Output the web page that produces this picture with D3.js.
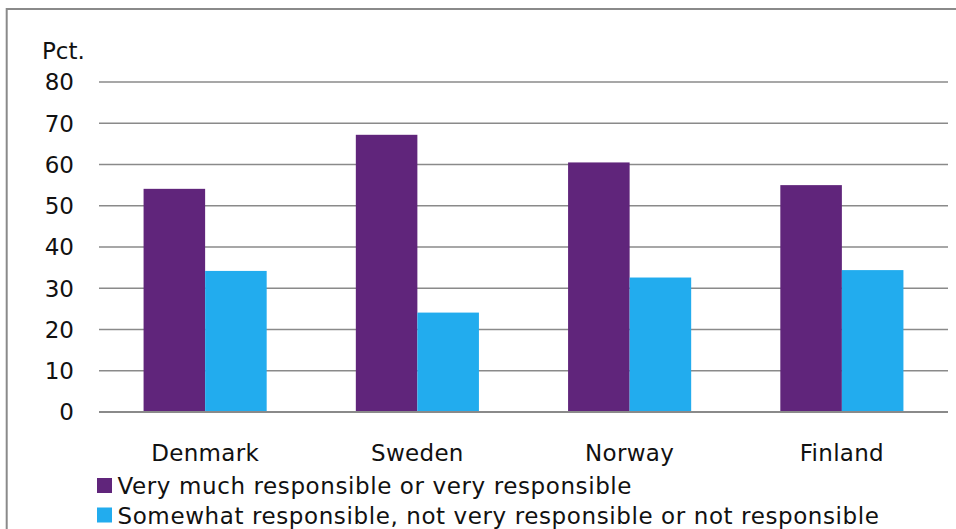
<!DOCTYPE html>
<html><head><meta charset="utf-8">
<script src="https://cdn.jsdelivr.net/npm/d3@7"></script>
<style>body{margin:0;background:#fff}svg{display:block}text{font-family:"DejaVu Sans",Verdana,sans-serif;fill:#111}</style>
</head><body>
<script>
const categories = ["Denmark", "Sweden", "Norway", "Finland"];
const seriesNames = ["Very much responsible or very responsible", "Somewhat responsible, not very responsible or not responsible"];
const veryResponsible = [54.1, 67.2, 60.5, 55.0];
const lessResponsible = [34.2, 24.1, 32.6, 34.4];
const yTicks = [0, 10, 20, 30, 40, 50, 60, 70, 80];
const colors = ["#60257b", "#22acee"];

const W = 956, H = 529;
const svg = d3.select("body").append("svg").attr("width", W).attr("height", H);

// frame
svg.append("rect").attr("x", 6.7).attr("y", 9).attr("width", 1000).attr("height", 1000)
  .attr("fill", "none").attr("stroke", "#8a8a8a").attr("stroke-width", 2);

const x0 = d3.scaleBand().domain(categories).range([99, 948]).paddingInner(0.42).paddingOuter(0.21);
const x1 = d3.scaleBand().domain([0, 1]).range([0, x0.bandwidth()]);
const y = d3.scaleLinear().domain([0, 80]).range([412, 82]);

// gridlines
svg.append("g").selectAll("line").data(yTicks).join("line")
  .attr("x1", 99).attr("x2", 948)
  .attr("y1", d => y(d)).attr("y2", d => y(d))
  .attr("stroke", "#8a8a8a").attr("stroke-width", d => d === 0 ? 2 : 1.7);

// y labels
svg.append("g").selectAll("text").data(yTicks).join("text")
  .attr("x", 74).attr("y", d => y(d)).attr("dy", "0.36em")
  .attr("text-anchor", "end").attr("font-size", 23).text(d => d);

svg.append("text").attr("x", 42).attr("y", 59.3).attr("font-size", 23).text("Pct.");

// bars
const series = [veryResponsible, lessResponsible];
series.forEach((vals, si) => {
  svg.append("g").selectAll("rect").data(categories).join("rect")
    .attr("x", c => x0(c) + x1(si))
    .attr("width", x1.bandwidth())
    .attr("y", (c, i) => y(vals[i]))
    .attr("height", (c, i) => y(0) - y(vals[i]))
    .attr("fill", colors[si]);
});

// redraw baseline over bars
svg.append("line").attr("x1", 99).attr("x2", 948).attr("y1", y(0)).attr("y2", y(0))
  .attr("stroke", "#8a8a8a").attr("stroke-width", 2);

// category labels
svg.append("g").selectAll("text").data(categories).join("text")
  .attr("x", c => x0(c) + x0.bandwidth() / 2).attr("y", 461)
  .attr("text-anchor", "middle").attr("font-size", 23).attr("letter-spacing", 0.3).text(c => c);

// legend
const lg = svg.append("g").selectAll("g").data(seriesNames).join("g")
  .attr("transform", (d, i) => `translate(97,${478 + i * 29.5})`);
lg.append("rect").attr("width", 15).attr("height", 15).attr("fill", (d, i) => colors[i]);
lg.append("text").attr("x", 20.5).attr("y", 16).attr("font-size", 23).attr("letter-spacing", 0.6).text(d => d);
</script>
</body></html>
